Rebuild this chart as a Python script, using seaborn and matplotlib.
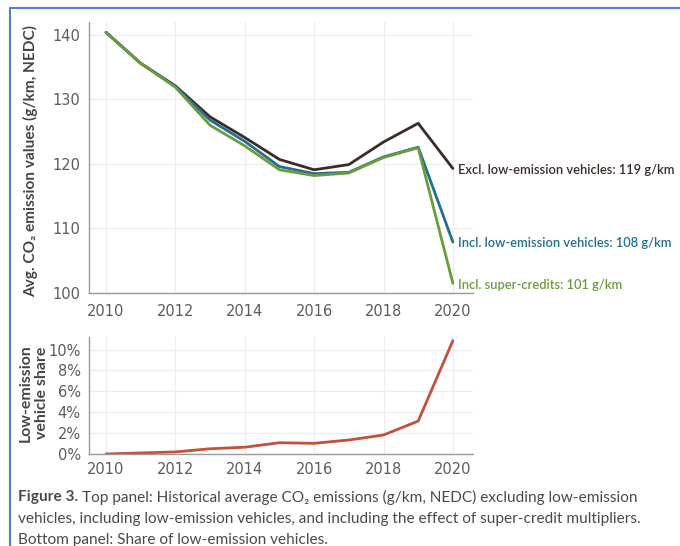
import numpy as np
import pandas as pd
import matplotlib
matplotlib.use("Agg")
import matplotlib.pyplot as plt
from matplotlib.lines import Line2D
import seaborn as sns

# ---- data ----
years = [2010, 2011, 2012, 2013, 2014, 2015, 2016, 2017, 2018, 2019, 2020]
excl_low = [140.4, 135.6, 132.1, 127.3, 124.1, 120.7, 119.1, 119.9, 123.4, 126.3, 119.3]
incl_low = [140.4, 135.6, 132.0, 126.8, 123.5, 119.6, 118.5, 118.7, 121.1, 122.6, 107.9]
incl_super = [140.4, 135.6, 131.9, 126.0, 122.8, 119.1, 118.2, 118.6, 121.0, 122.5, 101.5]
share = [0.0, 0.1, 0.2, 0.5, 0.65, 1.08, 1.02, 1.34, 1.82, 3.15, 10.85]

series_names = ["Excl. low-emission vehicles", "Incl. low-emission vehicles", "Incl. super-credits"]
end_labels = ["Excl. low-emission vehicles: 119 g/km",
              "Incl. low-emission vehicles: 108 g/km",
              "Incl. super-credits: 101 g/km"]
colors = ["#3b2b27", "#21708f", "#6b9b3d"]
share_color = "#c2503a"
x_ticks = [2010, 2012, 2014, 2016, 2018, 2020]
top_yticks = [100, 110, 120, 130, 140]
bot_yticks = [0, 2, 4, 6, 8, 10]

df = pd.DataFrame({
    "year": years * 3,
    "value": excl_low + incl_low + incl_super,
    "series": sum([[n] * len(years) for n in series_names], []),
})
df_share = pd.DataFrame({"year": years, "share": share})

sns.set_theme(style="white")
plt.rcParams["font.family"] = ["DejaVu Sans"]

W, H = 680, 546
fig = plt.figure(figsize=(W / 100, H / 100), dpi=100)
fig.patch.set_facecolor("white")

def px_axes(l, t, r, b):
    return fig.add_axes([l / W, 1 - b / H, (r - l) / W, (b - t) / H])

ax1 = px_axes(89, 22, 473, 293)
ax2 = px_axes(89, 337, 473, 454)

text_col = "#454545"
tick_col = "#5c5c5c"
grid_col = "#ececec"
spine_col = "#9a9a9a"

sns.lineplot(data=df, x="year", y="value", hue="series", hue_order=series_names,
             palette=colors, linewidth=2.0, ax=ax1, legend=False)
sns.lineplot(data=df_share, x="year", y="share", color=share_color, linewidth=2.0,
             ax=ax2, legend=False)

for ax in (ax1, ax2):
    ax.set_xlim(2009.51, 2020.58)
    ax.set_xticks(x_ticks)
    ax.set_xticklabels([str(x) for x in x_ticks])
    ax.grid(True, color=grid_col, linewidth=0.8)
    ax.set_axisbelow(True)
    for s in ("top", "right"):
        ax.spines[s].set_visible(False)
    for s in ("left", "bottom"):
        ax.spines[s].set_color(spine_col)
        ax.spines[s].set_linewidth(1.0)
    ax.tick_params(axis="both", labelsize=10.5, colors=tick_col, length=0, pad=6)
    ax.set_xlabel("")
    ax.set_ylabel("")
    ax.set_facecolor("white")

ax1.tick_params(axis="x", pad=8)

ax1.set_ylim(100, 142)
ax1.set_yticks(top_yticks)
ax1.set_yticklabels([str(v) for v in top_yticks])

ax2.set_ylim(0, 11.2)
ax2.set_yticks(bot_yticks)
ax2.set_yticklabels([f"{v}%" for v in bot_yticks])

fig.canvas.draw()
renderer = fig.canvas.get_renderer()

def fit(t, target_px, horizontal=True):
    bb = t.get_window_extent(renderer=renderer)
    w = bb.width if horizontal else bb.height
    t.set_fontsize(t.get_fontsize() * target_px / w)

# y labels
yl1 = fig.text(31 / W, 1 - 161 / H, "Avg. CO₂ emission values (g/km, NEDC)", rotation=90,
               fontsize=10, fontweight="bold", color=text_col, ha="center", va="center",
               family=["Lato", "DejaVu Sans"])
fit(yl1, 272, horizontal=False)
yl2 = fig.text(34 / W, 1 - 393 / H, "Low-emission\nvehicle share", rotation=90,
               fontsize=10, fontweight="bold", color=text_col, ha="center", va="center",
               linespacing=1.15, family=["Lato", "DejaVu Sans"])
fit(yl2, 98, horizontal=False)

end_vals = [excl_low[-1], incl_low[-1], incl_super[-1]]
anns = []
for lab, v, c in zip(end_labels, end_vals, colors):
    a = ax1.annotate(lab, xy=(years[-1], v), xytext=(4, -1), textcoords="offset points",
                     ha="left", va="center", fontsize=9, fontweight="semibold",
                     color=c, annotation_clip=False, family=["Lato", "DejaVu Sans"])
    anns.append(a)
bb0 = anns[0].get_window_extent(renderer=renderer)
scale = 217 / bb0.width
for a in anns:
    a.set_fontsize(a.get_fontsize() * scale)

# border lines (figure frame)
border_col = "#4f7fcf"
fig.add_artist(Line2D([10 / W, 10 / W], [0, 1 - 8 / H], transform=fig.transFigure,
                      color=border_col, linewidth=1.5))
fig.add_artist(Line2D([10 / W, 1], [1 - 8 / H, 1 - 8 / H], transform=fig.transFigure,
                      color=border_col, linewidth=1.5))

# caption
cap_col = "#4a4a4a"
cap_font = ["Lato", "DejaVu Sans"]
l2 = fig.text(18 / W, 1 - 519 / H,
              "vehicles, including low-emission vehicles, and including the effect of super-credit multipliers.",
              fontsize=10, color=cap_col, va="center", ha="left", family=cap_font)
fit(l2, 625)
cs = l2.get_fontsize()
t0 = fig.text(18 / W, 1 - 497 / H, "Figure 3.", fontsize=cs, fontweight="bold",
              color=cap_col, va="center", ha="left", family=cap_font)
bb = t0.get_window_extent(renderer=renderer)
fig.text((bb.x1 + 4) / W, 1 - 497 / H,
         "Top panel: Historical average CO₂ emissions (g/km, NEDC) excluding low-emission",
         fontsize=cs, color=cap_col, va="center", ha="left", family=cap_font)
fig.text(18 / W, 1 - 540 / H, "Bottom panel: Share of low-emission vehicles.",
         fontsize=cs, color=cap_col, va="center", ha="left", family=cap_font)

fig.savefig("out.png", dpi=100, facecolor="white")
